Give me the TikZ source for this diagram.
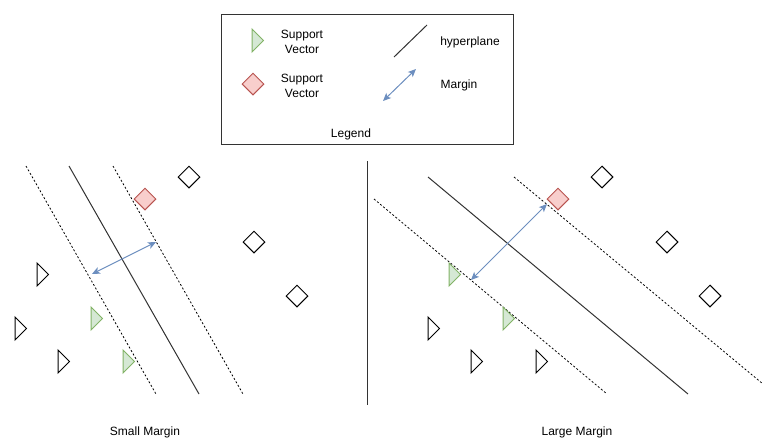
\documentclass[tikz,border=0pt]{standalone}
\usepackage{fontspec}
\setmainfont{Liberation Sans}
\usetikzlibrary{shapes.geometric,arrows.meta}
\definecolor{svgreen}{HTML}{D5E8D4}
\definecolor{svgreenline}{HTML}{82B366}
\definecolor{svred}{HTML}{F8CECC}
\definecolor{svredline}{HTML}{B85450}
\definecolor{marginblue}{HTML}{6C8EBF}
\definecolor{ink}{HTML}{333333}
\tikzset{
  lbl/.style={font=\fontsize{12}{15}\selectfont, text=black, inner sep=0pt, align=center},
  hyper/.style={draw=ink, line width=1pt},
  marginline/.style={draw=black, line width=0.8pt, dash pattern=on 2pt off 2pt},
  marginarrow/.style={draw=marginblue, line width=1pt,
    {Stealth[length=8pt,width=7pt,inset=2pt]}-{Stealth[length=8pt,width=7pt,inset=2pt]}},
  plain/.style={draw=black, line width=1pt, fill=white},
  supportg/.style={draw=svgreenline, line width=1pt, fill=svgreen},
  supportr/.style={draw=svredline, line width=1pt, fill=svred},
  pt/.style={diamond, minimum width=22pt, minimum height=22pt, inner sep=0pt},
}
% right-pointing triangle: top-left corner x, y
\newcommand\rtri[3]{\draw[#1] (#2,#3) -- ++(0,23) -- ++(11.5,-11.5) -- cycle;}
\begin{document}
\begin{tikzpicture}[x=1pt,y=-1pt]
\useasboundingbox (0,0) rectangle (764,437);

% ---------- legend ----------
\node[draw=ink, line width=1pt, minimum width=292pt, minimum height=130pt, anchor=north west, inner sep=0pt] (legend) at (221,14) {};
\rtri{supportg}{252}{29}
\node[lbl] (sv1) at (302,42) {Support\\Vector};
\node[pt, supportr] (legred) at (253,84) {};
\node[lbl] (sv2) at (302,86) {Support\\Vector};
\coordinate (lh1) at (394,57);
\coordinate (lh2) at (427,25);
\draw[hyper] (lh1) -- (lh2);
\node[lbl] (hyp) at (470,42) {hyperplane};
\coordinate (lm1) at (383,101);
\coordinate (lm2) at (416,69);
\draw[marginarrow] (lm1) -- (lm2);
\node[lbl] (mg) at (459,85) {Margin};
\node[lbl] (lg) at (351,134) {Legend};

% ---------- small margin ----------
\coordinate (sa1) at (26,166);  \coordinate (sa2) at (156,394);
\coordinate (sh1) at (69,166);  \coordinate (sh2) at (199,394);
\coordinate (sb1) at (113,166); \coordinate (sb2) at (243,394);
\draw[marginline] (sa1) -- (sa2);
\draw[hyper] (sh1) -- (sh2);
\draw[marginline] (sb1) -- (sb2);
\coordinate (sm1) at (92,274);
\coordinate (sm2) at (156,242);
\draw[marginarrow] (sm1) -- (sm2);
\node[pt, supportr] (sr) at (145,199) {};
\node[pt, plain] (sd1) at (189,177) {};
\node[pt, plain] (sd2) at (254,242) {};
\node[pt, plain] (sd3) at (297,296) {};
\rtri{plain}{37}{263}
\rtri{plain}{15}{317}
\rtri{plain}{58}{350}
\rtri{supportg}{91}{307}
\rtri{supportg}{123}{350}
\node[lbl] (st) at (145,432) {Small Margin};

% ---------- separator ----------
\coordinate (sep1) at (367,161);
\coordinate (sep2) at (367,405);
\draw[hyper] (sep1) -- (sep2);

% ---------- large margin ----------
\coordinate (la1) at (514,177); \coordinate (la2) at (763,384);
\coordinate (lh3) at (428,177); \coordinate (lh4) at (688,394);
\coordinate (lb1) at (374,199); \coordinate (lb2) at (607,394);
\draw[marginline] (la1) -- (la2);
\draw[hyper] (lh3) -- (lh4);
\draw[marginline] (lb1) -- (lb2);
\coordinate (lmm1) at (471,280);
\coordinate (lmm2) at (547,204);
\draw[marginarrow] (lmm1) -- (lmm2);
\node[pt, supportr] (lr) at (558,199) {};
\node[pt, plain] (ld1) at (602,177) {};
\node[pt, plain] (ld2) at (667,242) {};
\node[pt, plain] (ld3) at (710,296) {};
\rtri{supportg}{449}{263}
\rtri{supportg}{503}{307}
\rtri{plain}{428}{317}
\rtri{plain}{471}{350}
\rtri{plain}{536}{350}
\node[lbl] (lt) at (577,432) {Large Margin};
\end{tikzpicture}
\end{document}
